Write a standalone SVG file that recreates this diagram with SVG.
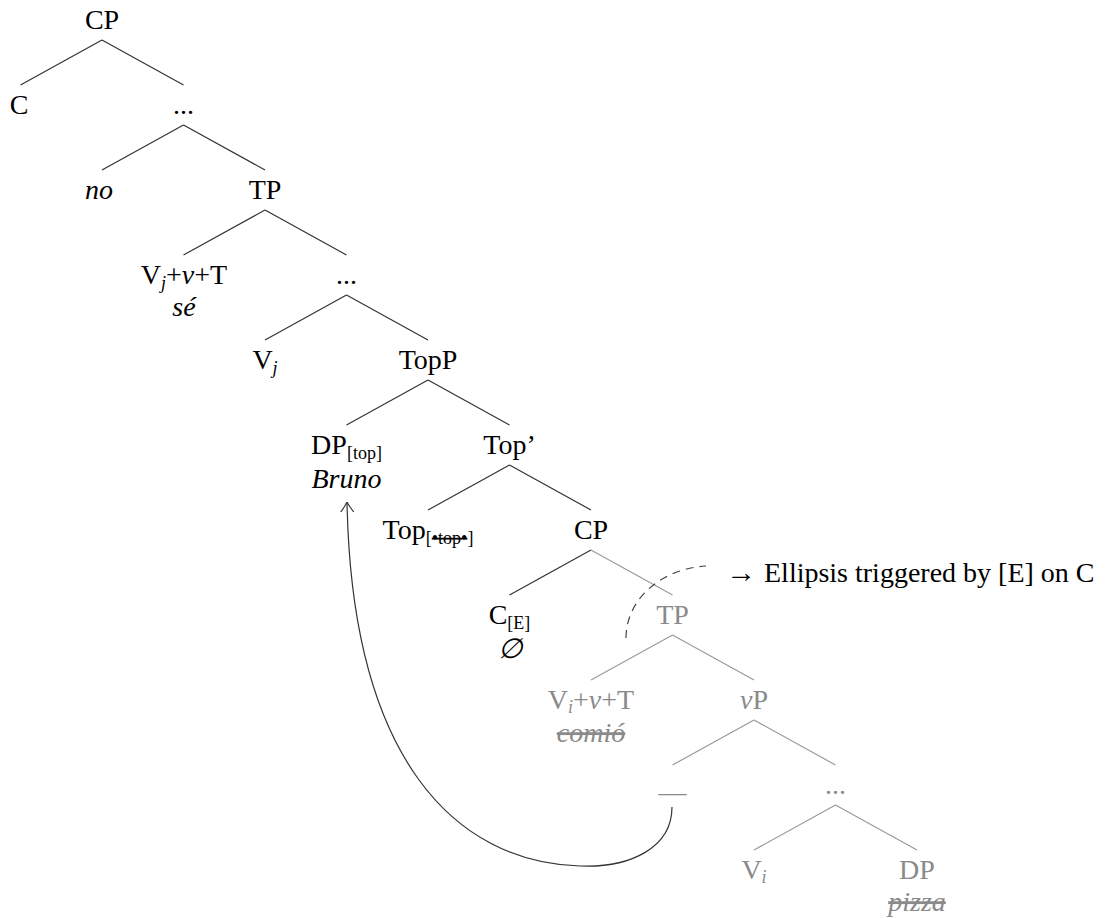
<svg xmlns="http://www.w3.org/2000/svg" width="1111" height="918" viewBox="0 0 1111 918">
<defs>
<style>
text{font-family:"Liberation Serif","Times New Roman",serif;font-size:28px;fill:#000;text-anchor:middle}
.g{fill:#8a8a8a}
.it{font-style:italic}
.sub{font-size:18px}
.strike{text-decoration:line-through}
.lk{stroke:#333;stroke-width:1.2;fill:none}
.lg{stroke:#9a9a9a;stroke-width:1.2;fill:none}
.txtl{text-anchor:start}
</style>
<marker id="arr" viewBox="0 0 10 14" refX="10" refY="7" markerWidth="10" markerHeight="14" orient="auto" markerUnits="userSpaceOnUse">
<path d="M0,0.5 Q6,5 10,7 Q6,9 0,13.5" fill="none" stroke="#333" stroke-width="1.1"/>
</marker>
</defs>
<rect width="1111" height="918" fill="#fff"/>
<g id="connectors">
<path class="lk" d="M102,40 L20.5,85 M102,40 L183.5,85"/>
<path class="lk" d="M183.5,125 L102,170 M183.5,125 L265,170"/>
<path class="lk" d="M265,210 L183.5,255 M265,210 L346.5,255"/>
<path class="lk" d="M346.5,295 L265,340 M346.5,295 L428,340"/>
<path class="lk" d="M428,380 L346.5,425 M428,380 L509.5,425"/>
<path class="lk" d="M509.5,465 L428,510 M509.5,465 L591,510"/>
<path class="lk" d="M591,550 L509.5,595"/>
<path class="lg" d="M591,550 L672.5,595"/>
<path class="lg" d="M672.5,635 L591,680 M672.5,635 L754,680"/>
<path class="lg" d="M754,720 L672.5,765 M754,720 L835.5,765"/>
<path class="lg" d="M835.5,805 L754,850 M835.5,805 L917,850"/>
<path d="M626,638 C626,600 660,569 706,566" fill="none" stroke="#444" stroke-width="1.2" stroke-dasharray="8,6"/>
<path d="M672,807 C672,848 630,868 580,866 C455,862 352,760 347,502" fill="none" stroke="#333" stroke-width="1.2" marker-end="url(#arr)"/>
</g>
<g id="n-cp0"><text x="102" y="29">CP</text></g>
<g id="n-c0"><text x="19" y="114">C</text></g>
<g id="n-dots1"><text x="183.5" y="114">...</text></g>
<g id="n-no"><text class="it" x="99" y="199">no</text></g>
<g id="n-tp0"><text x="265" y="199">TP</text></g>
<g id="n-vjvt"><text x="184" y="284">V<tspan class="sub it" dy="5">j</tspan><tspan dy="-5">+</tspan><tspan class="it">v</tspan>+T</text><text class="it" x="184" y="316">sé</text></g>
<g id="n-dots2"><text x="346.5" y="284">...</text></g>
<g id="n-vj"><text x="265" y="369">V<tspan class="sub it" dy="5">j</tspan></text></g>
<g id="n-topp"><text x="428" y="369">TopP</text></g>
<g id="n-dptop"><text x="346.5" y="454">DP<tspan class="sub" dy="5">[top]</tspan></text><text class="it" x="346.5" y="488">Bruno</text></g>
<g id="n-topbar"><text x="509.5" y="454">Top’</text></g>
<g id="n-top"><text x="428" y="539">Top<tspan class="sub" dy="5">[<tspan class="strike">•top•</tspan>]</tspan></text></g>
<g id="n-cp1"><text x="591" y="539">CP</text></g>
<g id="n-ce"><text x="509.5" y="624">C<tspan class="sub" dy="5">[E]</tspan></text><text class="it" x="509.5" y="658">∅</text></g>
<g id="n-tp1"><text class="g" x="672.5" y="624">TP</text></g>
<g id="n-vivt"><text class="g" x="591" y="709">V<tspan class="sub it" dy="4">i</tspan><tspan dy="-4">+</tspan><tspan class="it">v</tspan>+T</text><text class="g it strike" x="591" y="742">comió</text></g>
<g id="n-vp"><text class="g" x="754" y="709"><tspan class="it">v</tspan>P</text></g>
<g id="n-gap"><text class="g" x="672.5" y="801">—</text></g>
<g id="n-dots3"><text class="g" x="835.5" y="794">...</text></g>
<g id="n-vi"><text class="g" x="754" y="879">V<tspan class="sub it" dy="4">i</tspan></text></g>
<g id="n-dp"><text class="g" x="917" y="879">DP</text><text class="g it strike" x="917" y="911">pizza</text></g>
<g id="note"><text class="txtl" x="726" y="582" textLength="30" lengthAdjust="spacingAndGlyphs">→</text><text class="txtl" x="764" y="582">Ellipsis triggered by [E] on C</text></g>
</svg>
